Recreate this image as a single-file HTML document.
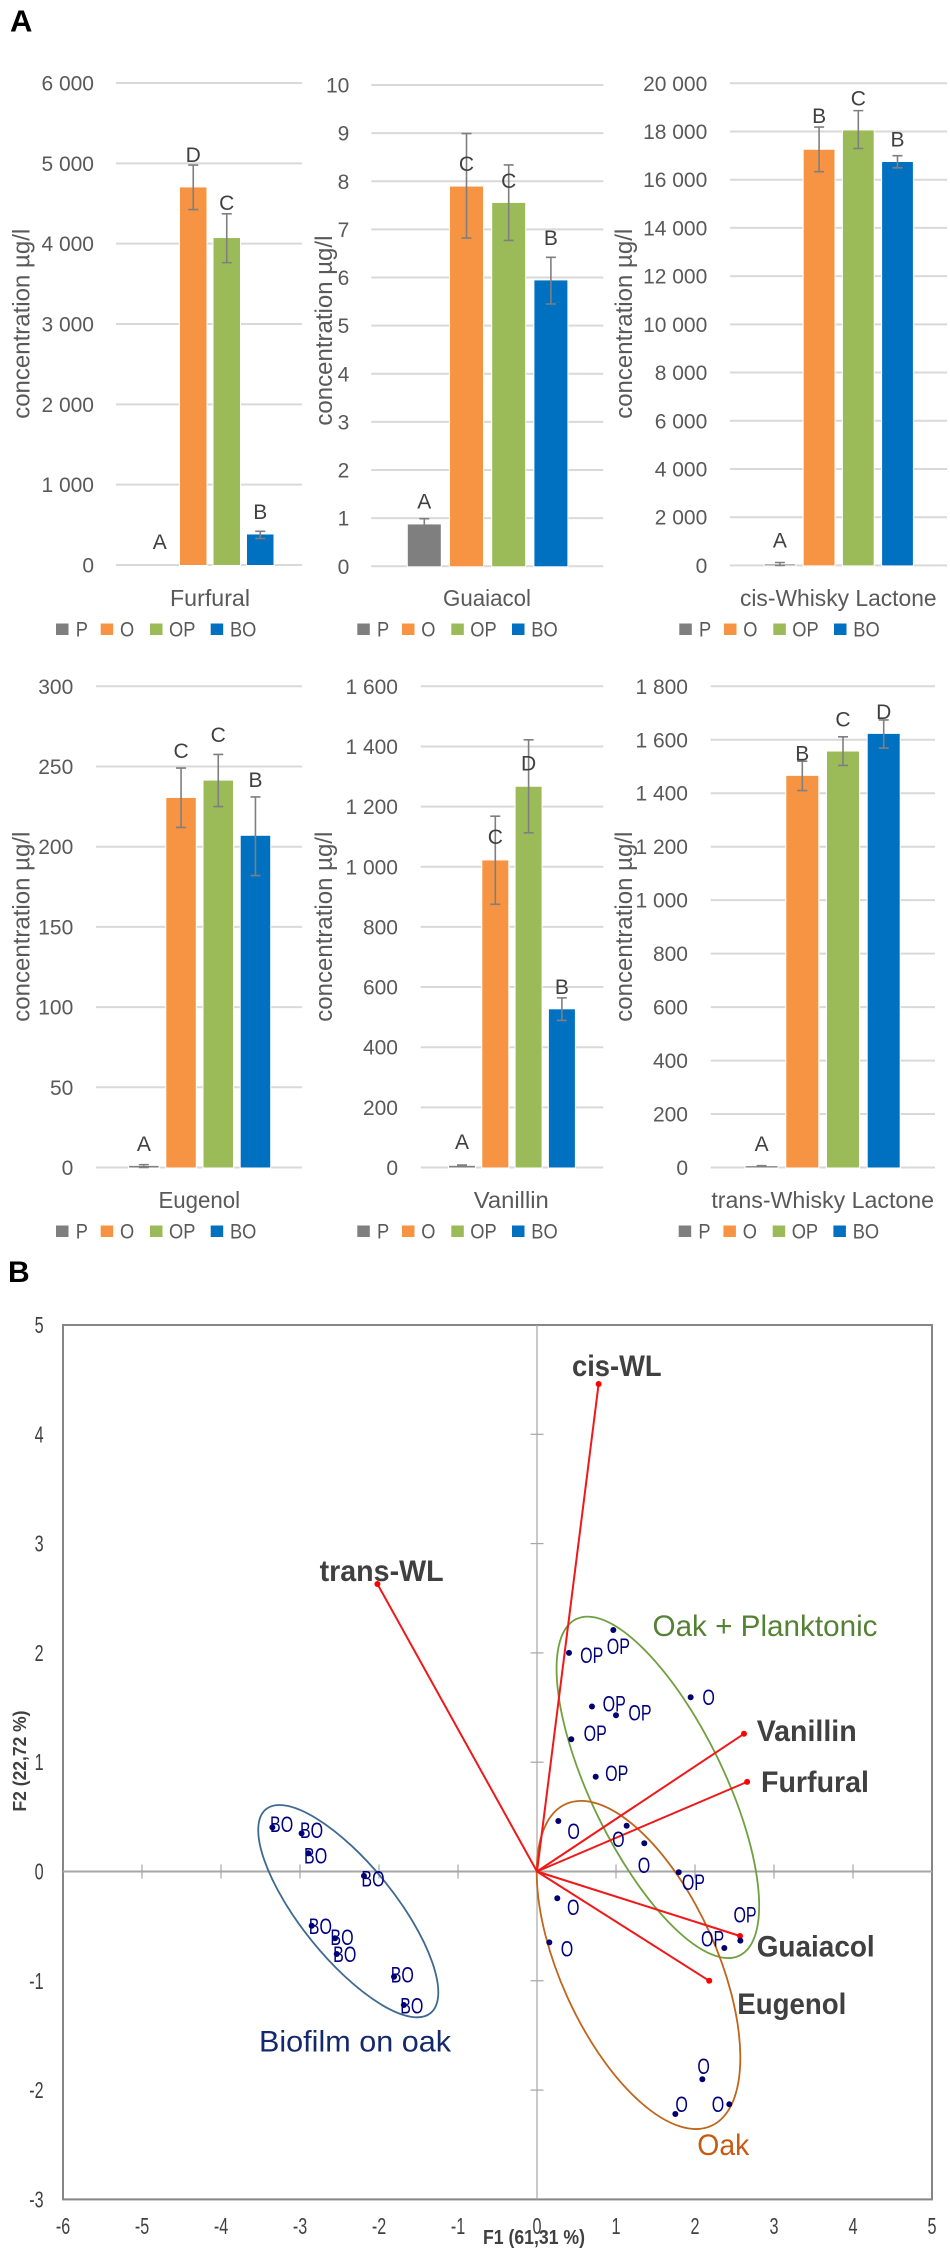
<!DOCTYPE html>
<html lang="en">
<head>
<meta charset="utf-8">
<title>Volatile compound concentrations and PCA biplot</title>
<style>
html,body{margin:0;padding:0;background:#fff;width:950px;height:2250px;overflow:hidden}
svg{display:block;font-family:"Liberation Sans",sans-serif}
</style>
</head>
<body>
<svg id="figure" xmlns="http://www.w3.org/2000/svg" width="950" height="2250" viewBox="0 0 950 2250">
  <rect x="0" y="0" width="950" height="2250" fill="#ffffff"/>
  <text x="10" y="31.5" font-size="31" font-weight="bold" fill="#000">A</text>
  <text x="8" y="1282" font-size="30" font-weight="bold" fill="#000">B</text>
</svg>
<script>
// ---------- bar chart data ----------
const seriesNames = ['P', 'O', 'OP', 'BO'];
const seriesColors = ['#7f7f7f', '#f79443', '#9bbb59', '#0070c0'];

const furfuralMeans = [0, 4700, 4070, 380];
const furfuralErrLow = [0, 4424, 3764, 330];
const furfuralErrHigh = [0, 4979, 4372, 419];
const furfuralLetters = ['A', 'D', 'C', 'B'];
const furfuralLetterLevels = [293, 5110, 4513, 665];
const furfuralTicks = [0, 1000, 2000, 3000, 4000, 5000, 6000];
const furfuralTickLabels = ['0', '1 000', '2 000', '3 000', '4 000', '5 000', '6 000'];

const guaiacolMeans = [0.87, 7.89, 7.55, 5.94];
const guaiacolErrLow = [0.75, 6.82, 6.77, 5.45];
const guaiacolErrHigh = [0.99, 8.99, 8.34, 6.42];
const guaiacolLetters = ['A', 'C', 'C', 'B'];
const guaiacolLetterLevels = [1.36, 8.37, 8.02, 6.83];
const guaiacolTicks = [0, 1, 2, 3, 4, 5, 6, 7, 8, 9, 10];
const guaiacolTickLabels = ['0', '1', '2', '3', '4', '5', '6', '7', '8', '9', '10'];

const cisMeans = [40, 17243, 18045, 16736];
const cisErrLow = [0, 16335, 17295, 16492];
const cisErrHigh = [120, 18185, 18866, 16998];
const cisLetters = ['A', 'B', 'C', 'B'];
const cisLetterLevels = [1047, 18656, 19389, 17679];
const cisTicks = [0, 2000, 4000, 6000, 8000, 10000, 12000, 14000, 16000, 18000, 20000];
const cisTickLabels = ['0', '2 000', '4 000', '6 000', '8 000', '10 000', '12 000', '14 000', '16 000', '18 000', '20 000'];

const eugenolMeans = [1, 230.4, 241.2, 206.8];
const eugenolErrLow = [0, 212, 225, 182];
const eugenolErrHigh = [1.8, 249, 257.5, 231];
const eugenolLetters = ['A', 'C', 'C', 'B'];
const eugenolLetterLevels = [15, 260, 270, 242];
const eugenolTicks = [0, 50, 100, 150, 200, 250, 300];
const eugenolTickLabels = ['0', '50', '100', '150', '200', '250', '300'];

const vanillinMeans = [5.6, 1021, 1266, 526];
const vanillinErrLow = [3, 875, 1113, 489];
const vanillinErrHigh = [8, 1168, 1422, 564];
const vanillinLetters = ['A', 'C', 'D', 'B'];
const vanillinLetterLevels = [87, 1101, 1345, 601];
const vanillinTicks = [0, 200, 400, 600, 800, 1000, 1200, 1400, 1600];
const vanillinTickLabels = ['0', '200', '400', '600', '800', '1 000', '1 200', '1 400', '1 600'];

const transMeans = [5, 1465, 1556, 1622];
const transErrLow = [3, 1410, 1504, 1569];
const transErrHigh = [7, 1520, 1611, 1674];
const transLetters = ['A', 'B', 'C', 'D'];
const transLetterLevels = [90, 1550, 1677, 1705];
const transTicks = [0, 200, 400, 600, 800, 1000, 1200, 1400, 1600, 1800];
const transTickLabels = ['0', '200', '400', '600', '800', '1 000', '1 200', '1 400', '1 600', '1 800'];

// ---------- PCA data ----------
const vectorNames = ['cis-WL', 'trans-WL', 'Vanillin', 'Furfural', 'Guaiacol', 'Eugenol'];
const vectorF1 = [0.78, -2.02, 2.62, 2.66, 2.57, 2.18];
const vectorF2 = [4.46, 2.63, 1.26, 0.82, -0.59, -1.0];

const opF1 = [0.966, 0.405, 0.696, 1.0, 0.434, 0.743, 1.794, 2.574, 2.371];
const opF2 = [2.21, 2.0, 1.51, 1.43, 1.21, 0.867, -0.007, -0.633, -0.70];
const opLabelDx = [5, 22.7, 22.3, 24, 24, 21, 14.7, 4.7, -11.7];
const opLabelDy = [16.7, 2.7, -2.7, -2.3, -5.7, -3, 10, -25.7, -9];

const oakF1 = [1.945, 0.27, 1.135, 1.358, 0.257, 0.156, 2.093, 1.751, 2.434];
const oakF2 = [1.594, 0.462, 0.419, 0.258, -0.245, -0.648, -1.901, -2.219, -2.13];
const oakLabelDx = [18, 15.3, -8.3, -0.3, 16, 17.7, 1.3, 6.3, -11.3];
const oakLabelDy = [0, 10.7, 13.7, 22, 9.3, 6.7, -13, -9.7, 0];

const boF1 = [-3.35, -2.98, -2.895, -2.19, -2.852, -2.557, -2.535, -1.81, -1.686];
const boF2 = [0.404, 0.349, 0.167, -0.04, -0.496, -0.611, -0.755, -0.963, -1.221];
const boLabelDx = [9.3, 10, 7.3, 9, 8.7, 7, 8, 8.3, 8];
const boLabelDy = [-3, -2.7, 3, 3.3, 0.7, -1, 0.7, -2, 1];

const xTickValues = [-6, -5, -4, -3, -2, -1, 0, 1, 2, 3, 4, 5];
const yTickValues = [-3, -2, -1, 0, 1, 2, 3, 4, 5];

const groupNames = ['Oak + Planktonic', 'Oak', 'Biofilm on oak'];
const groupCenterF1 = [1.53, 1.285, -2.389];
const groupCenterF2 = [0.77, -0.855, -0.363];

// ---------- helpers ----------
const NS = 'http://www.w3.org/2000/svg';
const root = document.getElementById('figure');

function mk(tag, attrs, parent, text) {
  const e = document.createElementNS(NS, tag);
  for (const k in attrs) e.setAttribute(k, attrs[k]);
  if (text !== undefined) e.textContent = text;
  (parent || root).appendChild(e);
  return e;
}
function fit(e, len) {
  e.setAttribute('textLength', len);
  e.setAttribute('lengthAdjust', 'spacingAndGlyphs');
}
function squeeze(e, factor) {
  fit(e, (e.getComputedTextLength() * factor).toFixed(1));
}

// ---------- bar charts ----------
const barCharts = [
  { key: 'furfural', title: 'Furfural', means: furfuralMeans, low: furfuralErrLow, high: furfuralErrHigh, letters: furfuralLetters, levels: furfuralLetterLevels, ticks: furfuralTicks, labels: furfuralTickLabels,
    gridL: 116, gridR: 302, yTop: 83, y0: 565, tickR: 94, ylabX: 29.5, ylabC: 323.8, bandL: 146.5, step: 33.5, barW: 26.5, catX: 210, catW: 80, catY: 606, legX: 56, legY: 629 },
  { key: 'guaiacol', title: 'Guaiacol', means: guaiacolMeans, low: guaiacolErrLow, high: guaiacolErrHigh, letters: guaiacolLetters, levels: guaiacolLetterLevels, ticks: guaiacolTicks, labels: guaiacolTickLabels,
    gridL: 371.3, gridR: 603.3, yTop: 85, y0: 566.3, tickR: 349.3, ylabX: 332, ylabC: 330.6, bandL: 407.8, step: 42.2, barW: 33, catX: 487, catW: 88, catY: 606, legX: 357.3, legY: 629 },
  { key: 'cis-whisky-lactone', title: 'cis-Whisky Lactone', means: cisMeans, low: cisErrLow, high: cisErrHigh, letters: cisLetters, levels: cisLetterLevels, ticks: cisTicks, labels: cisTickLabels,
    gridL: 730, gridR: 947, yTop: 83.3, y0: 565.4, tickR: 707.3, ylabX: 632, ylabC: 323.8, bandL: 764.5, step: 39.2, barW: 30.8, catX: 838.3, catW: 196.7, catY: 606, legX: 679.3, legY: 629 },
  { key: 'eugenol', title: 'Eugenol', means: eugenolMeans, low: eugenolErrLow, high: eugenolErrHigh, letters: eugenolLetters, levels: eugenolLetterLevels, ticks: eugenolTicks, labels: eugenolTickLabels,
    gridL: 96, gridR: 302, yTop: 686.3, y0: 1167.5, tickR: 73.3, ylabX: 29.5, ylabC: 926.7, bandL: 129.1, step: 37.2, barW: 29.5, catX: 199.3, catW: 81.7, catY: 1208, legX: 56, legY: 1231 },
  { key: 'vanillin', title: 'Vanillin', means: vanillinMeans, low: vanillinErrLow, high: vanillinErrHigh, letters: vanillinLetters, levels: vanillinLetterLevels, ticks: vanillinTicks, labels: vanillinTickLabels,
    gridL: 420.7, gridR: 603.3, yTop: 686.3, y0: 1167.5, tickR: 398, ylabX: 332, ylabC: 926.7, bandL: 449, step: 33.3, barW: 26, catX: 511.3, catW: 75, catY: 1208, legX: 357.3, legY: 1231 },
  { key: 'trans-whisky-lactone', title: 'trans-Whisky Lactone', means: transMeans, low: transErrLow, high: transErrHigh, letters: transLetters, levels: transLetterLevels, ticks: transTicks, labels: transTickLabels,
    gridL: 710.7, gridR: 935, yTop: 686.3, y0: 1167.5, tickR: 688, ylabX: 632, ylabC: 926.7, bandL: 745.6, step: 40.7, barW: 32, catX: 822.7, catW: 222.7, catY: 1208, legX: 678.7, legY: 1231 }
];

const legendSwatchDx = [0, 44.7, 94, 154.7];
const legendTextDx = [19.7, 64, 113, 174];

barCharts.forEach(function (c) {
  const group = mk('g', {});
  
  

  const maxV = c.ticks[c.ticks.length - 1];
  const yScale = function (v) { return c.y0 - (v / maxV) * (c.y0 - c.yTop); };
  const xBand = function (i) { return c.bandL + i * c.step; };

  c.ticks.forEach(function (t, i) {
    const y = yScale(t);
    const grid = mk('line', { x1: c.gridL, x2: c.gridR, y1: y, y2: y, stroke: '#d9d9d9', 'stroke-width': 2 }, group);
    
    
    const tick = mk('text', { x: c.tickR, y: y + 7.5, 'text-anchor': 'end', 'font-size': 21, fill: '#595959' }, group, c.labels[i]);
    
    
  });

  const yTitle = mk('text', { transform: 'translate(' + c.ylabX + ',' + c.ylabC + ') rotate(-90)', 'text-anchor': 'middle', 'font-size': 24, fill: '#595959' }, group, 'concentration µg/l');
  
  
  fit(yTitle, 190);

  seriesNames.forEach(function (s, i) {
    const top = yScale(c.means[i]);
    const bar = mk('rect', { x: xBand(i), y: top, width: c.barW, height: Math.max(0, c.y0 - top), fill: seriesColors[i], stroke: '#ffffff', 'stroke-width': 2, 'paint-order': 'stroke' }, group);
    
    

    const cx = xBand(i) + c.barW / 2;
    if (c.high[i] > c.low[i]) {
      const yH = yScale(c.high[i]);
      const yL = yScale(c.low[i]);
      const err = mk('path', {
        d: 'M' + cx + ' ' + yH + 'V' + yL + 'M' + (cx - 5) + ' ' + yH + 'H' + (cx + 5) + 'M' + (cx - 5) + ' ' + yL + 'H' + (cx + 5),
        stroke: '#7f7f7f', 'stroke-width': 1.6, fill: 'none'
      }, group);
      
      
    }

    const letter = mk('text', { x: cx, y: yScale(c.levels[i]) + 7.5, 'text-anchor': 'middle', 'font-size': 21, fill: '#404040' }, group, c.letters[i]);
    
    

    const swatch = mk('rect', { x: c.legX + legendSwatchDx[i], y: c.legY - 5.5, width: 12.5, height: 11.5, fill: seriesColors[i] }, group);
    
    
    const legendText = mk('text', { x: c.legX + legendTextDx[i], y: c.legY + 7.5, 'font-size': 21, fill: '#595959' }, group, s);
    
    
    squeeze(legendText, 0.87);
  });

  const cat = mk('text', { x: c.catX, y: c.catY, 'text-anchor': 'middle', 'font-size': 23, fill: '#595959' }, group, c.title);
  
  
  fit(cat, c.catW);
});

// ---------- PCA biplot ----------
const sx = function (v) { return 537 + 79 * v; };
const sy = function (v) { return 1871.5 - 109.3 * v; };

const pca = mk('g', {});



const frame = mk('rect', { x: sx(-6), y: sy(5), width: sx(5) - sx(-6), height: sy(-3) - sy(5), fill: 'none', stroke: '#868686', 'stroke-width': 2 }, pca);



const xAxisLine = mk('line', { x1: sx(-6), x2: sx(5), y1: sy(0), y2: sy(0), stroke: '#a6a6a6', 'stroke-width': 2 }, pca);


const yAxisLine = mk('line', { x1: sx(0), x2: sx(0), y1: sy(5), y2: sy(-3), stroke: '#a6a6a6', 'stroke-width': 1.2 }, pca);



xTickValues.forEach(function (v) {
  if (v > -6 && v < 5 && v !== 0) {
    const t = mk('line', { x1: sx(v), x2: sx(v), y1: sy(0) - 7, y2: sy(0) + 7, stroke: '#a6a6a6', 'stroke-width': 1.2 }, pca);
    
    
  }
  const l = mk('text', { x: sx(v), y: 2234, 'text-anchor': 'middle', 'font-size': 23, fill: '#404040' }, pca, String(v));
  
  
  squeeze(l, 0.7);
});

yTickValues.forEach(function (v) {
  if (v > -3 && v < 5 && v !== 0) {
    const t = mk('line', { x1: sx(0) - 6.5, x2: sx(0) + 6.5, y1: sy(v), y2: sy(v), stroke: '#a6a6a6', 'stroke-width': 1.2 }, pca);
    
    
  }
  const l = mk('text', { x: 43.6, y: sy(v) + 8, 'text-anchor': 'end', 'font-size': 23, fill: '#404040' }, pca, String(v));
  
  
  squeeze(l, 0.7);
});

const xTitle = mk('text', { x: 534, y: 2244, 'text-anchor': 'middle', 'font-size': 20, 'font-weight': 'bold', fill: '#404040' }, pca, 'F1 (61,31 %)');


fit(xTitle, 102);
const yTitlePca = mk('text', { transform: 'translate(26,1761) rotate(-90)', 'text-anchor': 'middle', 'font-size': 18, 'font-weight': 'bold', fill: '#404040' }, pca, 'F2 (22,72 %)');


fit(yTitlePca, 101);

// ellipse shape settings (semi-axes in px, rotation in degrees)
const ellipseStyles = [
  { rx: 66.6, ry: 187, rot: -25.9, stroke: '#70a03f', key: 'oak-planktonic' },
  { rx: 78.1, ry: 176.6, rot: -24.35, stroke: '#c0651a', key: 'oak' },
  { rx: 47, ry: 131, rot: -38.9, stroke: '#3f6a8f', key: 'biofilm' }
];
groupNames.forEach(function (n, i) {
  const st = ellipseStyles[i];
  const cx = sx(groupCenterF1[i]);
  const cy = sy(groupCenterF2[i]);
  const e = mk('ellipse', { cx: cx, cy: cy, rx: st.rx, ry: st.ry, transform: 'rotate(' + st.rot + ' ' + cx + ' ' + cy + ')', fill: 'none', stroke: st.stroke, 'stroke-width': 1.8 }, pca);
  
  
});

// loading vectors
const vectorLabelPos = [
  { x: 572, y: 1376, w: 89.6 }, { x: 319.6, y: 1581, w: 124 }, { x: 756.7, y: 1741, w: 100 },
  { x: 761, y: 1792, w: 108 }, { x: 756.7, y: 1956.7, w: 118 }, { x: 737.3, y: 2014, w: 109 }
];
vectorNames.forEach(function (n, i) {
  const line = mk('line', { x1: sx(0), y1: sy(0), x2: sx(vectorF1[i]), y2: sy(vectorF2[i]), stroke: '#f01818', 'stroke-width': 2 }, pca);
  
  
  const tip = mk('circle', { cx: sx(vectorF1[i]), cy: sy(vectorF2[i]), r: 3, fill: '#ff0000' }, pca);
  
  
  const p = vectorLabelPos[i];
  const t = mk('text', { x: p.x, y: p.y, 'font-size': 30, 'font-weight': 'bold', fill: '#404040' }, pca, n);
  
  
  fit(t, p.w);
});

// observation scores
function drawScores(f1, f2, dxs, dys, label) {
  f1.forEach(function (v, i) {
    const px = sx(v);
    const py = sy(f2[i]);
    const dot = mk('circle', { cx: px, cy: py, r: 3, fill: '#00006e' }, pca);
    
    
    const t = mk('text', { x: px + dxs[i], y: py + dys[i] + 7.5, 'text-anchor': 'middle', 'font-size': 22, fill: '#00007f' }, pca, label);
    
    
    squeeze(t, 0.73);
  });
}
drawScores(opF1, opF2, opLabelDx, opLabelDy, 'OP');
drawScores(oakF1, oakF2, oakLabelDx, oakLabelDy, 'O');
drawScores(boF1, boF2, boLabelDx, boLabelDy, 'BO');

// group captions
const groupCaptions = [
  { x: 652.5, y: 1636, w: 225, fill: '#548235', key: 'oak-planktonic' },
  { x: 697.3, y: 2155, w: 52, fill: '#c55a11', key: 'oak' },
  { x: 259, y: 2051.7, w: 192, fill: '#14286e', key: 'biofilm' }
];
groupNames.forEach(function (n, i) {
  const c = groupCaptions[i];
  const t = mk('text', { x: c.x, y: c.y, 'font-size': 30, fill: c.fill }, pca, n);
  
  
  fit(t, c.w);
});
</script>
</body>
</html>
